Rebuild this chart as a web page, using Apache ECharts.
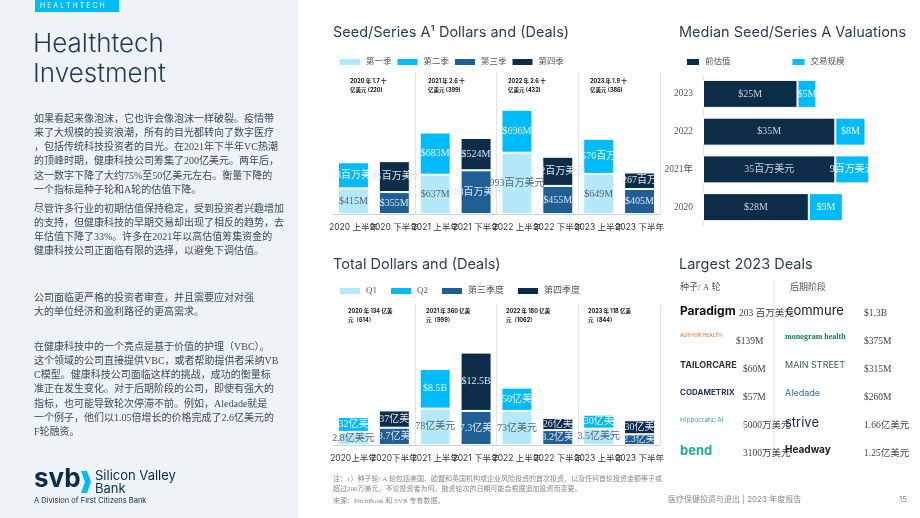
<!DOCTYPE html>
<html><head><meta charset="utf-8">
<script src="https://cdn.jsdelivr.net/npm/echarts@6/dist/echarts.min.js"></script>
<style>html,body{margin:0;padding:0;background:#fff}#main{width:920px;height:518px}</style>
</head><body><div id="main"></div>
<script>
// half-year categories
var halfs = ['2020 上半年','2020 下半年','2021 上半年','2021 下半年','2022 上半年','2022 下半年','2023 上半年','2023 下半年'];
var halfs2 = ['2020上半年','2020下半年','2021 上半年','2021 下半年','2022 上半年','2022 下半年','2023 上半年','2023 下半年'];
// seed / series A, $M
var seedQ1 = [415,null,637,null,993,null,649,null];
var seedQ2 = [423,null,683,null,696,null,570,null];
var seedQ3 = [null,355,null,708,null,455,null,405];
var seedQ4 = [null,501,null,524,null,472,null,267];
var seedQ1Lbl = ['$415M','','$637M','','993百万美元','','$649M',''];
var seedQ2Lbl = ['423百万美元','','$683M','','$696M','','570百万','' ];
var seedQ3Lbl = ['','$355M','','708百万美元','','$455M','','$405M'];
var seedQ4Lbl = ['','501百万美元','','$524M','','472百万美元','','267百万'];
var seedYears = ['2020 年 1.7 十\n亿美元 (220)','2021 年 2.6 十\n亿美元 (399)','2022 年 2.6 十\n亿美元 (432)','2023 年 1.9 十\n亿美元 (386)'];
// total dollars, $B
var totQ1 = [2.8,null,7.8,null,7.3,null,3.5,null];
var totQ2 = [3.2,null,8.5,null,5.0,null,3.0,null];
var totQ3 = [null,3.7,null,7.3,null,3.2,null,2.3];
var totQ4 = [null,3.7,null,12.5,null,2.6,null,3.0];
var totQ1Lbl = ['2.8亿美元','','78亿美元','','73亿美元','','3.5亿美元',''];
var totQ2Lbl = ['32亿美','','$8.5B','','50亿美','','30亿美',''];
var totQ3Lbl = ['','3.7亿美','','7.3亿美','','3.2亿美','','2.3亿美'];
var totQ4Lbl = ['','37亿美','','$12.5B','','26亿美','','30亿美'];
var totYears = ['2020 年 134 亿美\n元（614）','2021 年 360 亿美\n元（999）','2022 年 180 亿美\n元（1062）','2023 年 118 亿美\n元（844）'];
// valuations, $M
var valYears = ['2020','2021年','2022','2023'];
var preMoney = [28,35,35,25];
var dealSize = [9,9,8,5];
var preLbl = ['$28M','35百万美元','$35M','$25M'];
var dealLbl = ['$9M','9百万美元','$8M','$5M'];
// largest deals
var earlyCos = ['Paradigm','AUTHOR HEALTH','TAILORCARE','CODAMETRIX','Hippocratic AI','bend'];
var earlyAmt = ['203 百万美元','$139M','$60M','$57M','5000万美元','3100万美元'];
var lateCos = ['commure','monogram health','MAIN STREET','Aledade','strive','Headway'];
var lateAmt = ['$1.3B','$375M','$315M','$260M','1.66亿美元','1.25亿美元'];

var C1='#b3e9fb',C2='#00bbf9',C3='#1f5f96',C4='#0c2c47';
var SERIF='"Liberation Serif","Noto Sans CJK SC",serif';
var SANS='Inter,"Noto Sans CJK SC",sans-serif';
var TXT='#2b3f55';

function lblFn(arr, color){
  return {show:true,position:'inside',color:color,fontFamily:SERIF,fontSize:10,
    formatter:function(p){return arr[p.dataIndex];}};
}
function qBars(name,data,color,lbls,lc,xi,stack){
  return {name:name,type:'bar',stack:stack,data:data,xAxisIndex:xi,yAxisIndex:xi,barWidth:31,
    itemStyle:{color:color,borderColor:'#fff',borderWidth:1},label:lblFn(lbls,lc)};
}
var sepLines={show:true,interval:function(i){return i===2||i===4||i===6;},lineStyle:{color:'#dde3e8'}};
function catAxis(cats,gi){
  return {type:'category',data:cats,gridIndex:gi,axisTick:{show:false},
    axisLine:{lineStyle:{color:'#ccd3d9'}},splitLine:sepLines,
    axisLabel:{color:'#333',fontSize:8.5,fontFamily:SANS,interval:0,margin:9}};
}
var body={fill:'#3a4a5a',font:'10px '+SERIF,lineHeight:14.2};
function para(y,t){return {type:'text',x:34,y:y,style:Object.assign({text:t},body)};}

var graphics=[
  {type:'rect',shape:{x:0,y:0,width:298,height:518},style:{fill:'#eef3f7'},z:-10},
  {type:'rect',shape:{x:35,y:0,width:84,height:12},style:{fill:'#00bbf9'}},
  {type:'text',x:40,y:2,style:{text:'H E A L T H T E C H',fill:'#fff',font:'7px Inter'}},
  {type:'text',x:33,y:29,style:{text:'Healthtech\nInvestment',fill:'#1f3b55',font:'300 26px Inter',lineHeight:30}},
  para(112,'如果看起来像泡沫，它也许会像泡沫一样破裂。疫情带\n来了大规模的投资浪潮，所有的目光都转向了数字医疗\n，包括传统科技投资者的目光。在2021年下半年VC热潮\n的顶峰时期，健康科技公司筹集了200亿美元。两年后，\n这一数字下降了大约75%至50亿美元左右。衡量下降的\n一个指标是种子轮和A轮的估值下降。'),
  para(202,'尽管许多行业的初期估值保持稳定，受到投资者兴趣增加\n的支持，但健康科技的早期交易却出现了相反的趋势，去\n年估值下降了33%。许多在2021年以高估值筹集资金的\n健康科技公司正面临有限的选择，以避免下调估值。'),
  para(291,'公司面临更严格的投资者审查，并且需要应对对强\n大的单位经济和盈利路径的更高需求。'),
  para(340,'在健康科技中的一个亮点是基于价值的护理（VBC）。\n这个领域的公司直接提供VBC，或者帮助提供者采纳VB\nC模型。健康科技公司面临这样的挑战，成功的衡量标\n准正在发生变化。对于后期阶段的公司，即使有强大的\n指标，也可能导致轮次停滞不前。例如，Aledade就是\n一个例子，他们以1.05倍增长的价格完成了2.6亿美元的\nF轮融资。'),
  {type:'text',x:34,y:466,style:{text:'svb',fill:'#0c2c47',font:'bold 26px Inter'}},
  {type:'polygon',shape:{points:[[81,471],[87,471],[91,482],[87,493],[81,493],[85,482]]},style:{fill:'#00bbf9'}},
  {type:'text',x:95,y:470,style:{text:'Silicon Valley\nBank',fill:'#0c2c47',font:'13px Inter',lineHeight:13}},
  {type:'text',x:34,y:497,style:{text:'A Division of First Citizens Bank',fill:'#0c2c47',font:'7.5px Inter'}},
  // titles
  {type:'text',x:333,y:25,style:{text:'Seed/Series A¹ Dollars and (Deals)',fill:TXT,font:'14.5px Inter'}},
  {type:'text',x:333,y:257,style:{text:'Total Dollars and (Deals)',fill:TXT,font:'14.5px Inter'}},
  {type:'text',x:679,y:25,style:{text:'Median Seed/Series A Valuations',fill:TXT,font:'14.5px Inter'}},
  {type:'text',x:679,y:257,style:{text:'Largest 2023 Deals',fill:TXT,font:'14.5px Inter'}},
  {type:'text',x:680,y:283,style:{text:'种子/ A 轮',fill:'#555',font:'9px '+SERIF}},
  {type:'text',x:790,y:283,style:{text:'后期阶段',fill:'#555',font:'9px '+SERIF}},
  {type:'line',shape:{x1:774,y1:280,x2:774,y2:462},style:{stroke:'#dde3e8'}},
  // footer
  {type:'text',x:333,y:474,style:{fill:'#888',font:'7px '+SERIF,lineHeight:10,text:'注：1）种子轮/ A 轮包括美国、欧盟和英国机构或企业风险投资的首次投资，以及任何首轮投资金额等于或\n超过200万美元，不论投资者为何。融资轮次的日期可能会根据追加投资而变更。'}},
  {type:'text',x:333,y:498,style:{fill:'#888',font:'7px '+SERIF,text:'来源：PitchBook 和 SVB 专有数据。'}},
  {type:'text',x:668,y:496,style:{fill:'#888',font:'8px '+SANS,text:'医疗保健投资与退出 | 2023 年度报告'}},
  {type:'text',x:899,y:496,style:{fill:'#888',font:'8px '+SANS,text:'15'}}
];
// year annotations
var xs=[350,428,508,590];
seedYears.forEach(function(t,i){graphics.push({type:'text',x:xs[i],y:77,style:{text:t,fill:'#111',font:'bold 5.5px '+SANS,lineHeight:9}});});
totYears.forEach(function(t,i){graphics.push({type:'text',x:xs[i]-2,y:307,style:{text:t,fill:'#111',font:'bold 5.5px '+SANS,lineHeight:9}});});
// deals
var logoStyle=[
 {font:'bold 12px Inter',fill:'#111'},{font:'5px Inter',fill:'#f26a2e'},{font:'bold 9px Inter',fill:'#333'},
 {font:'bold 8px Inter',fill:'#2a3560'},{font:'6.5px Inter',fill:'#3aa0d8'},{font:'bold 13px Inter',fill:'#1fae8a'}];
var lateStyle=[
 {font:'13px Inter',fill:'#222'},{font:'bold 8px '+SERIF,fill:'#1a7a5a'},{font:'9px Inter',fill:'#2d6b4a'},
 {font:'9px Inter',fill:'#2e6fb0'},{font:'13px Inter',fill:'#0c2c47'},{font:'bold 10px Inter',fill:'#222'}];
earlyCos.forEach(function(c,i){
  var y=305+i*28;
  graphics.push({type:'text',x:680,y:y,style:Object.assign({text:c},logoStyle[i])});
  graphics.push({type:'text',x:i===0?739:(i<2?736:743),y:y+4,style:{text:earlyAmt[i],fill:'#444',font:'9.5px '+SERIF}});
  graphics.push({type:'text',x:i===0?786:785,y:y,style:Object.assign({text:lateCos[i]},lateStyle[i])});
  graphics.push({type:'text',x:864,y:y+4,style:{text:lateAmt[i],fill:'#444',font:'9.5px '+SERIF}});
});

var option={
  animation:false,
  textStyle:{fontFamily:SANS},
  graphic:graphics,
  legend:[
    {data:['第一季','第二季','第三季','第四季'],left:333,top:52,itemWidth:22,itemHeight:8,itemGap:4,icon:'rect',
     textStyle:{fontSize:8.5,color:'#555',fontFamily:SERIF}},
    {data:['Q1','Q2','第三季度','第四季度'],left:333,top:281,itemWidth:22,itemHeight:8,itemGap:12,icon:'rect',
     textStyle:{fontSize:9,color:'#555',fontFamily:SERIF}},
    {data:['前估值','交易规模'],left:680,top:52,itemWidth:14,itemHeight:8,itemGap:60,icon:'rect',
     textStyle:{fontSize:8.5,color:'#555',fontFamily:SERIF}}
  ],
  grid:[
    {left:333,top:72,width:327,height:142},
    {left:333,top:305,width:327,height:140},
    {left:703,top:75,width:189,height:151}
  ],
  xAxis:[catAxis(halfs,0),catAxis(halfs2,1),
    {type:'value',gridIndex:2,min:0,max:50,show:false}],
  yAxis:[
    {type:'value',gridIndex:0,min:0,max:2300,show:false},
    {type:'value',gridIndex:1,min:0,max:30,show:false},
    {type:'category',gridIndex:2,data:valYears,axisTick:{show:false},
     axisLine:{lineStyle:{color:'#e0e4e8'}},axisLabel:{color:'#555',fontSize:9.5,fontFamily:SERIF,margin:10}}
  ],
  series:[
    qBars('第一季',seedQ1,C1,seedQ1Lbl,'#5a6570',0,'s'),
    qBars('第二季',seedQ2,C2,seedQ2Lbl,'#e8f6fc',0,'s'),
    qBars('第三季',seedQ3,C3,seedQ3Lbl,'#dbe6ee',0,'s'),
    qBars('第四季',seedQ4,C4,seedQ4Lbl,'#dbe6ee',0,'s'),
    qBars('Q1',totQ1,C1,totQ1Lbl,'#5a6570',1,'t'),
    qBars('Q2',totQ2,C2,totQ2Lbl,'#e8f6fc',1,'t'),
    qBars('第三季度',totQ3,C3,totQ3Lbl,'#dbe6ee',1,'t'),
    qBars('第四季度',totQ4,C4,totQ4Lbl,'#dbe6ee',1,'t'),
    {name:'前估值',type:'bar',stack:'v',xAxisIndex:2,yAxisIndex:2,data:preMoney,barWidth:28,
     itemStyle:{color:C4,borderColor:'#fff',borderWidth:1},label:lblFn(preLbl,'#c7d2dc')},
    {name:'交易规模',type:'bar',stack:'v',xAxisIndex:2,yAxisIndex:2,data:dealSize,barWidth:28,
     itemStyle:{color:C2,borderColor:'#fff',borderWidth:1},label:lblFn(dealLbl,'#e8f6fc')}
  ]
};
var chart=echarts.init(document.getElementById('main'));
chart.setOption(option);
</script>
</body></html>
